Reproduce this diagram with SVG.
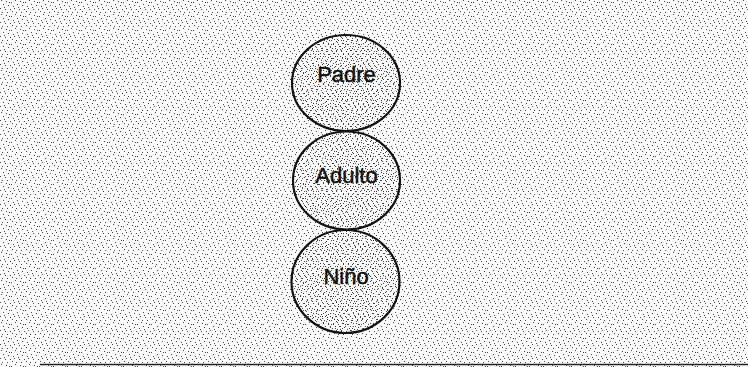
<svg xmlns="http://www.w3.org/2000/svg" width="748" height="367" viewBox="0 0 748 367">
  <defs>
    <pattern id="stipple" width="14" height="14" patternUnits="userSpaceOnUse">
      <rect x="1" y="0" width="1" height="1" fill="#444"/>
      <rect x="6" y="1" width="1" height="1" fill="#444"/>
      <rect x="11" y="2" width="1" height="1" fill="#444"/>
      <rect x="3" y="4" width="1" height="1" fill="#444"/>
      <rect x="8" y="5" width="1" height="1" fill="#444"/>
      <rect x="13" y="6" width="1" height="1" fill="#444"/>
      <rect x="0" y="8" width="1" height="1" fill="#444"/>
      <rect x="5" y="9" width="1" height="1" fill="#444"/>
      <rect x="10" y="9" width="1" height="1" fill="#444"/>
      <rect x="2" y="12" width="1" height="1" fill="#444"/>
      <rect x="7" y="12" width="1" height="1" fill="#444"/>
      <rect x="12" y="11" width="1" height="1" fill="#444"/>
      <rect x="9" y="2" width="1" height="1" fill="#444"/>
      <rect x="4" y="7" width="1" height="1" fill="#444"/>
    </pattern>
    <pattern id="stippleDense" width="10" height="10" patternUnits="userSpaceOnUse">
      <rect x="1" y="0" width="1" height="1" fill="#444"/>
      <rect x="6" y="1" width="1" height="1" fill="#444"/>
      <rect x="3" y="3" width="1" height="1" fill="#444"/>
      <rect x="8" y="4" width="1" height="1" fill="#444"/>
      <rect x="0" y="6" width="1" height="1" fill="#444"/>
      <rect x="5" y="6" width="1" height="1" fill="#444"/>
      <rect x="2" y="8" width="1" height="1" fill="#444"/>
      <rect x="7" y="9" width="1" height="1" fill="#444"/>
    </pattern>
  </defs>
  <style>
    .node ellipse { fill: url(#stippleDense); stroke: #111; stroke-width: 2.2; }
    .node text { font-family: "Liberation Sans", Arial, sans-serif; font-size: 22px; fill: #111; stroke: #111; stroke-width: 0.5; text-anchor: middle; }
  </style>
  <rect x="0" y="0" width="748" height="367" fill="#fff"/>
  <rect x="0" y="0" width="748" height="367" fill="url(#stipple)"/>
  <line x1="40" y1="364.5" x2="748" y2="364.5" stroke="#222" stroke-width="1.5"/>
  <g id="connectors"></g>
  <g id="padre" class="node">
    <ellipse cx="346" cy="83" rx="54" ry="48"/>
    <text x="346.5" y="82">Padre</text>
  </g>
  <g id="adulto" class="node">
    <ellipse cx="346.5" cy="180.5" rx="53.5" ry="49"/>
    <text x="346.5" y="183">Adulto</text>
  </g>
  <g id="nino" class="node">
    <ellipse cx="345.5" cy="281.5" rx="54" ry="51.5"/>
    <text x="346" y="284">Niño</text>
  </g>
</svg>
